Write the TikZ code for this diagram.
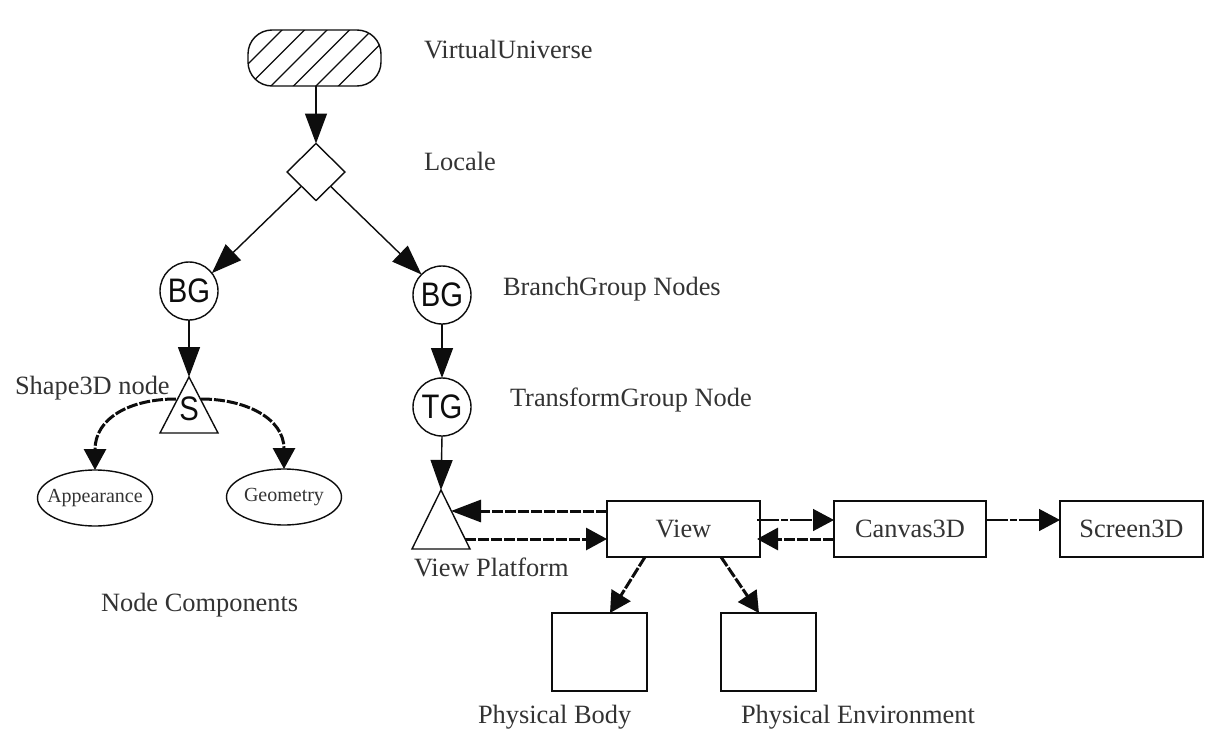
\documentclass[tikz,border=0pt]{standalone}
\usepackage{graphicx}
\usepackage{fontspec}
\setmainfont{Liberation Serif}
\newfontfamily\lsans{Liberation Sans}
\usetikzlibrary{arrows.meta,calc,shapes.geometric}
\definecolor{ink}{gray}{0.05}
\definecolor{txt}{gray}{0.2}
\newcommand{\narrowsym}[1]{\scalebox{0.86}[1]{#1}}
\tikzset{
  every node/.style={inner sep=0pt,outer sep=0pt},
  lab/.style={text=txt,font=\fontsize{26.4}{30}\selectfont,anchor=base west},
  small/.style={text=txt,font=\fontsize{20}{24}\selectfont},
  sym/.style={text=ink,font=\lsans\fontsize{34}{38}\selectfont},
  circ/.style={circle,draw=ink,line width=1.4pt,minimum size=58pt,fill=white},
  boxn/.style={rectangle,draw=ink,line width=1.5pt,fill=white},
  ell/.style={ellipse,draw=ink,line width=1.4pt,minimum width=115pt,minimum height=56pt},
  tipl/.style={-{Triangle[length=30pt,width=22pt]}},
  tips/.style={-{Triangle[length=21pt,width=22pt]}},
  solidarrow/.style={tipl,draw=ink,line width=1.4pt},
  thickdash/.style={tips,draw=ink,line width=3pt,dash pattern=on 11pt off 2pt},
  longdash/.style={tipl,draw=ink,line width=3pt,dash pattern=on 11pt off 2pt},
  thindash/.style={tips,draw=ink,line width=1.4pt,dash pattern=on 22pt off 2pt on 7pt off 2pt},
}
\begin{document}
\begin{tikzpicture}[x=1pt,y=-1pt]
\useasboundingbox (0,0) rectangle (1216,731);
\fill[white] (0,0) rectangle (1216,731);
% universe
\node[rectangle,rounded corners=24pt,minimum width=133pt,minimum height=56pt,draw=ink,line width=1.4pt,
      path picture={
        \foreach \s in {-2,-1,0,1,2,3}{
          \draw[ink,line width=1.1pt] ({270+\s*22.5-314.5},29) -- ++(-60,60) ++(60,-60) -- ++(70,-70);
        }
      }] (vu) at (314.5,58) {};
\node[lab] (vul) at (424,58) {VirtualUniverse};
% locale
\node[diamond,draw=ink,line width=1.4pt,minimum width=58pt,minimum height=57pt,aspect=1,fill=white] (loc) at (316,172) {};
\node[lab] (locl) at (424,170) {Locale};
% groups
\node[circ,sym] (bg1) at (189,291) {\narrowsym{BG}};
\node[circ,sym] (bg2) at (442,295) {\narrowsym{BG}};
\node[lab] (bgl) at (503,295) {BranchGroup Nodes};
\node[circ,sym] (tg) at (442,407) {\narrowsym{TG}};
\node[lab] (tgl) at (510,406) {TransformGroup Node};
% shape3d
\coordinate (sa) at (189,377);
\coordinate (sl) at (160,433);
\coordinate (sr) at (218,433);
\draw[ink,line width=1.4pt] (sa) -- (sr) -- (sl) -- cycle;
\node[sym] (s) at (189,409) {\narrowsym{S}};
\node[lab] (shl) at (15,394) {Shape3D node};
\coordinate (sal) at (176,399);
\coordinate (sar) at (201,399);
% components
\node[ell] (app) at (95,498) {};
\node[small] (appl) at (app) {Appearance};
\node[ell] (geo) at (284,497) {};
\node[small] (geol) at (geo) {Geometry};
\node[lab] (ncl) at (101,611) {Node Components};
% view platform
\coordinate (va) at (441,490);
\coordinate (vl) at (412,549);
\coordinate (vr) at (470,549);
\draw[ink,line width=1.4pt] (va) -- (vr) -- (vl) -- cycle;
\node[lab] (vpl) at (414,576) {View Platform};
\coordinate (vpu) at (451,511);
\coordinate (vpd) at (465,539);
% boxes
\node[boxn,lab,anchor=center,minimum width=153pt,minimum height=56pt] (view) at (683.5,529) {View};
\node[boxn,lab,anchor=center,minimum width=152pt,minimum height=56pt] (can) at (910,529) {Canvas3D};
\node[boxn,lab,anchor=center,minimum width=143pt,minimum height=56pt] (scr) at (1131.5,529) {Screen3D};
\node[boxn,minimum width=95pt,minimum height=78pt] (pb) at (599.5,652) {};
\node[boxn,minimum width=95pt,minimum height=78pt] (pe) at (768.5,652) {};
\node[lab] (pbl) at (478,723) {Physical Body};
\node[lab] (pel) at (741,723) {Physical Environment};
% connectors
\coordinate (locsw) at ($(loc.south)!0.5!(loc.west)$);
\coordinate (locse) at ($(loc.south)!0.5!(loc.east)$);
\draw[solidarrow] (vu.south-|loc.north) -- (loc.north);
\draw[solidarrow] (locsw) -- (bg1.38);
\draw[solidarrow] (locse) -- (bg2.135);
\draw[solidarrow] (bg1.south) -- (sa);
\draw[solidarrow] (bg2.south) -- (tg.north);
\draw[solidarrow] (tg.south) -- (va);
\draw[thickdash] (sal) .. controls (130,399) and (95,418) .. (app.north);
\draw[thickdash] (sar) .. controls (245,399) and (284,418) .. (geo.north);
\draw[longdash] ($(view.west)+(0,-18)$) -- (vpu);
\draw[thickdash] (vpd) -- ($(view.west)+(0,10)$);
\draw[thindash] ($(view.east)+(-3,-9)$) -- ($(can.west)+(0,-9)$);
\draw[thickdash] ($(can.west)+(0,10)$) -- ($(view.east)+(-3,10)$);
\draw[thindash] ($(can.east)+(0,-9)$) -- ($(scr.west)+(0,-9)$);
\draw[thickdash] ($(view.south west)+(38,0)$) -- ($(pb.north east)+(-37,0)$);
\draw[thickdash] ($(view.south west)+(114,0)$) -- ($(pe.north west)+(38,0)$);
\end{tikzpicture}
\end{document}
